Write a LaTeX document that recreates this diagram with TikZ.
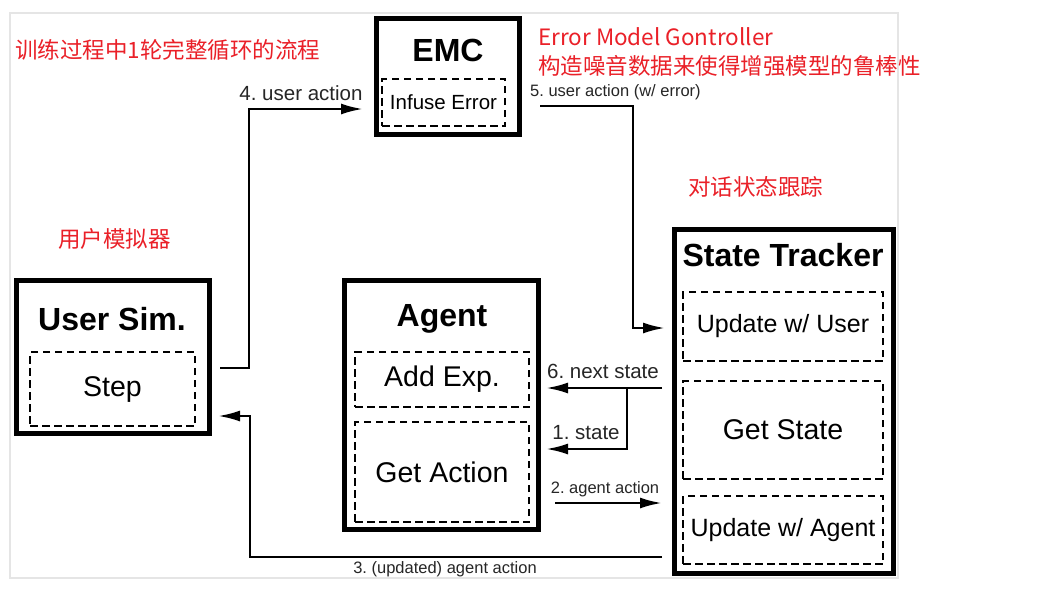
\documentclass[tikz,border=0pt]{standalone}
\usepackage{fontspec}
\setmainfont{Liberation Sans}
\newfontfamily\cjk{Noto Sans CJK SC}
\usetikzlibrary{arrows.meta}
\definecolor{redtxt}{RGB}{234,32,40}
\frenchspacing
\begin{document}
\frenchspacing
\begin{tikzpicture}[x=1pt,y=-1pt,
  mainbox/.style={draw=black,line width=5pt,inner sep=0pt},
  subbox/.style={draw=black,line width=2pt,dash pattern=on 7.5pt off 4.5pt,inner sep=0pt,align=center,font=\fontsize{28.5}{32}\selectfont},
  title/.style={font=\fontsize{32}{36}\selectfont\bfseries},
  conn/.style={draw=black,line width=2.6pt,-{Latex[length=22pt,width=11pt]}},
  biglab/.style={font=\fontsize{20.5}{24}\selectfont,text=black!85,inner sep=0pt},
  smalllab/.style={font=\fontsize{16.5}{20}\selectfont,text=black!85,inner sep=0pt},
  note/.style={font=\cjk\fontsize{22.5}{26}\selectfont,text=redtxt,inner sep=0pt,anchor=west}
]
\useasboundingbox (0,0) rectangle (1048,595);
\fill[white] (0,0) rectangle (1048,595);
\draw[black!10,line width=1.5pt] (10,13) rectangle (898,578);

% main boxes
\node[mainbox,minimum width=143pt,minimum height=116pt] (emc) at (448,76.5) {};
\node[mainbox,minimum width=193pt,minimum height=153pt] (usersim) at (113,357) {};
\node[mainbox,minimum width=194pt,minimum height=249pt] (agent) at (441.5,405) {};
\node[mainbox,minimum width=219pt,minimum height=344pt] (tracker) at (784,401.5) {};

% titles
\node[title] (emct) at (448,50) {EMC};
\node[title] (usert) at (112,319) {User Sim.};
\node[title] (agentt) at (442,319) {Agent};
\node[title] (trackert) at (783,255) {State Tracker};

% sub boxes
\node[subbox,minimum width=123pt,minimum height=47pt,font=\fontsize{20.5}{24}\selectfont] (infuse) at (443.5,102.5) {Infuse Error};
\node[subbox,minimum width=165pt,minimum height=74pt] (step) at (112.5,389) {Step};
\node[subbox,minimum width=174pt,minimum height=55pt] (addexp) at (442,379.5) {Add Exp.};
\node[subbox,minimum width=174pt,minimum height=100pt] (getaction) at (442,472) {Get Action};
\node[subbox,minimum width=200pt,minimum height=69pt,font=\fontsize{25}{28}\selectfont] (upduser) at (783,326.5) {Update w/ User};
\node[subbox,minimum width=200pt,minimum height=98pt] (getstate) at (783,430) {Get State};
\node[subbox,minimum width=200pt,minimum height=68pt,font=\fontsize{25}{28}\selectfont] (updagent) at (783,530) {Update w/ Agent};

% connector end points
\coordinate (a4s) at (220,368);
\coordinate (a4e) at (363,109);
\coordinate (a5s) at (540,106);
\coordinate (a5e) at (665,328);
\coordinate (a6s) at (662,388);
\coordinate (a6e) at (546,388);
\coordinate (a1s) at (627,388);
\coordinate (a1e) at (546,449);
\coordinate (a2s) at (555,503);
\coordinate (a2e) at (662,503);
\coordinate (a3s) at (662,557);
\coordinate (a3e) at (218,416);

\draw[conn] (a4s) -| (249,109) -- (a4e);
\draw[conn] (a5s) -| (633,328) -- (a5e);
\draw[conn] (a6s) -- (a6e);
\draw[conn] (a1s) |- (a1e);
\draw[conn] (a2s) -- (a2e);
\draw[conn] (a3s) -| (250,416) -- (a3e);

% labels
\node[biglab] (l4) at (301,93) {4. user action};
\node[smalllab,anchor=west] (l5) at (530,92) {5. user action (w/ error)};
\node[biglab] (l6) at (603,371) {6. next state};
\node[biglab] (l1) at (586,433) {1. state};
\node[smalllab] (l2) at (605,489) {2. agent action};
\node[smalllab] (l3) at (445,569) {3. (updated) agent action};

% red notes
\node[note] (n1) at (15,50) {训练过程中1轮完整循环的流程};
\node[note] (n2) at (538,37) {Error Model Gontroller};
\node[note] (n3) at (538,66) {构造噪音数据来使得增强模型的鲁棒性};
\node[note] (n4) at (688,187) {对话状态跟踪};
\node[note] (n5) at (58,239) {用户模拟器};
\end{tikzpicture}
\end{document}
